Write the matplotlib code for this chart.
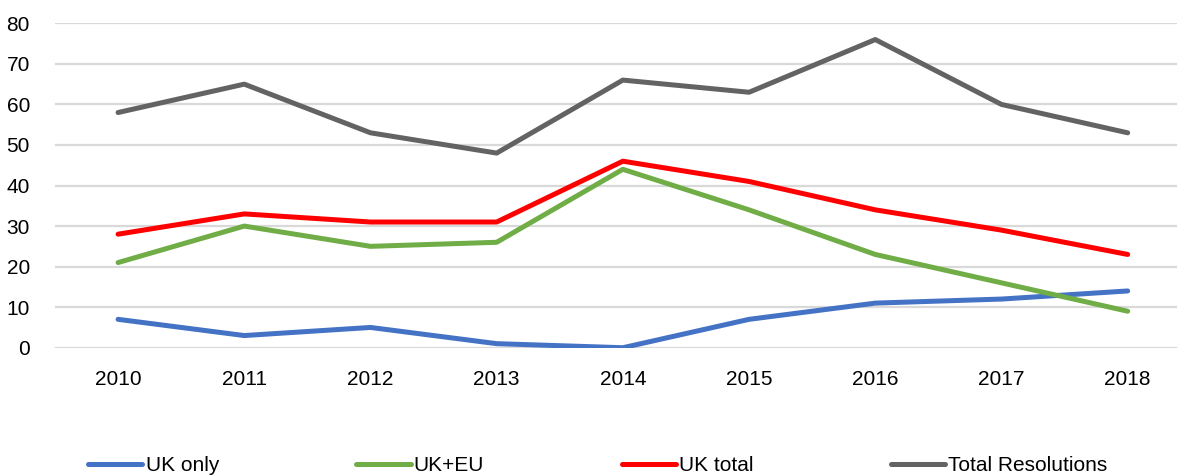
import numpy as np
import matplotlib.pyplot as plt

years = ["2010", "2011", "2012", "2013", "2014", "2015", "2016", "2017", "2018"]
uk_only = [7, 3, 5, 1, 0, 7, 11, 12, 14]
uk_eu = [21, 30, 25, 26, 44, 34, 23, 16, 9]
uk_total = [28, 33, 31, 31, 46, 41, 34, 29, 23]
total_resolutions = [58, 65, 53, 48, 66, 63, 76, 60, 53]

series = [
    ("UK only", uk_only, "#4472C4"),
    ("UK+EU", uk_eu, "#70AD47"),
    ("UK total", uk_total, "#FF0000"),
    ("Total Resolutions", total_resolutions, "#636363"),
]

plt.rcParams["font.family"] = ["Liberation Sans", "DejaVu Sans"]

fig = plt.figure(figsize=(11.77, 4.76), dpi=100)
ax = fig.add_axes([0.0467, 0.2695, 0.965, 0.6815])

x = np.arange(len(years))
for name, vals, color in series:
    ax.plot(x, vals, color=color, linewidth=3.6, label=name, solid_capstyle="round")

ax.set_xlim(-0.5, len(years) - 0.5)
ax.set_ylim(0, 80)
ax.set_yticks(range(0, 81, 10))
ax.set_xticks(x)
ax.set_xticklabels(years)
ax.tick_params(axis="both", length=0, labelsize=15, colors="#000000")
ax.tick_params(axis="x", pad=16)
ax.tick_params(axis="y", pad=18)
ax.grid(axis="y", color="#D9D9D9", linewidth=1.6)
ax.set_axisbelow(True)
for s in ax.spines.values():
    s.set_visible(False)

fig.legend(loc="center", bbox_to_anchor=(0.508, 0.022), ncol=4, frameon=False,
           fontsize=15, handlelength=2.6, handletextpad=0.15, columnspacing=6.6)

fig.savefig("out.png", dpi=100)
